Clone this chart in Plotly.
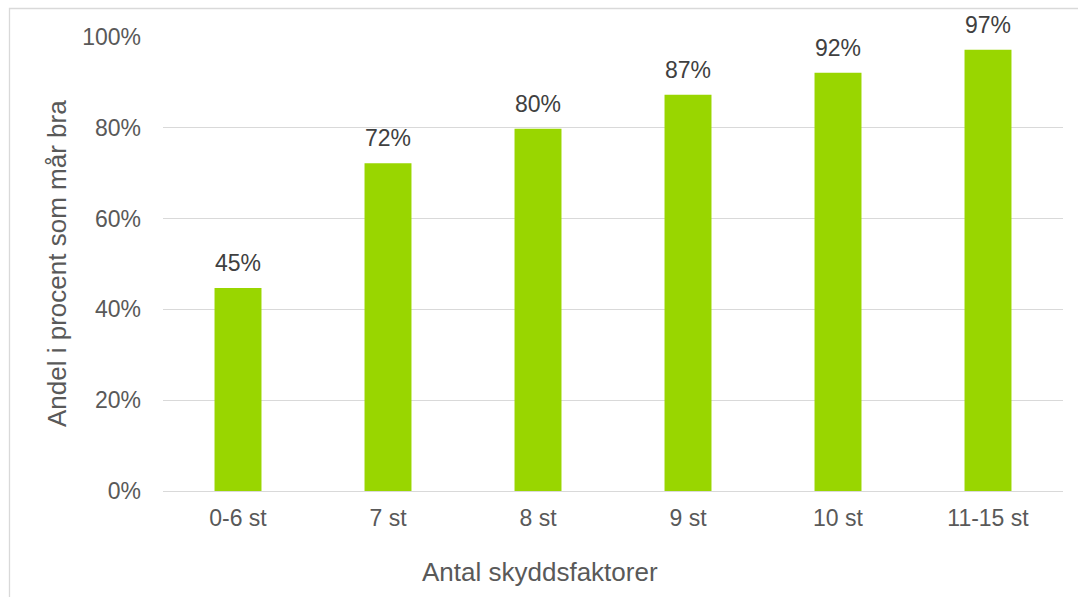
import plotly.graph_objects as go

categories = ["0-6 st", "7 st", "8 st", "9 st", "10 st", "11-15 st"]
values = [44.7, 72.2, 79.8, 87.3, 92.1, 97.2]
y_ticks = [0, 20, 40, 60, 80, 100]
y_title = "Andel i procent som mår bra"
x_title = "Antal skyddsfaktorer"

W, H = 1078, 597
L, R, T, B = 163, 15, 37, 106
pw, ph = W - L - R, H - T - B

def px_x(x):
    return (x - L) / pw

def px_y(y):
    return (H - B - y) / ph

FONT = "Liberation Sans, Arial, sans-serif"

fig = go.Figure()
fig.add_trace(go.Bar(
    x=categories, y=values,
    marker=dict(color="#99D600", line=dict(width=0)),
    hoverinfo="skip",
))

annotations = []
for c, v in zip(categories, values):
    annotations.append(dict(
        x=c, y=v, xref="x", yref="y", text=f"{round(v)}%",
        showarrow=False, yanchor="bottom", xanchor="center", yshift=10,
        font=dict(family=FONT, size=23, color="#404040"),
    ))
annotations.append(dict(
    x=px_x(57), y=0.5, xref="paper", yref="paper", text=y_title,
    showarrow=False, textangle=-90, xanchor="center", yanchor="middle",
    font=dict(family=FONT, size=26, color="#595959"),
))
annotations.append(dict(
    x=px_x(540), y=px_y(572), xref="paper", yref="paper", text=x_title,
    showarrow=False, xanchor="center", yanchor="middle",
    font=dict(family=FONT, size=26, color="#595959"),
))

fig.update_layout(
    width=W, height=H,
    margin=dict(l=L, r=R, t=T, b=B, pad=0),
    paper_bgcolor="white", plot_bgcolor="white",
    bargap=0.687,
    showlegend=False,
    annotations=annotations,
    shapes=[dict(
        type="rect", xref="paper", yref="paper",
        x0=px_x(9.5), x1=px_x(1100), y0=px_y(620), y1=px_y(8.5),
        line=dict(color="#D9D9D9", width=1.3), fillcolor="rgba(0,0,0,0)",
        layer="below",
    )],
    xaxis=dict(
        showgrid=False, zeroline=False, showline=False, ticks="",
        tickfont=dict(family=FONT, size=23, color="#595959"),
        ticklabelstandoff=11,
    ),
    yaxis=dict(
        range=[0, 100], tickvals=y_ticks, ticktext=[f"{t}%" for t in y_ticks],
        showgrid=True, gridcolor="#D9D9D9", gridwidth=1.3,
        zeroline=True, zerolinecolor="#D9D9D9", zerolinewidth=1.3,
        showline=False, ticks="",
        tickfont=dict(family=FONT, size=23, color="#595959"),
        ticklabelstandoff=21,
    ),
)

fig.write_html("out.html")
